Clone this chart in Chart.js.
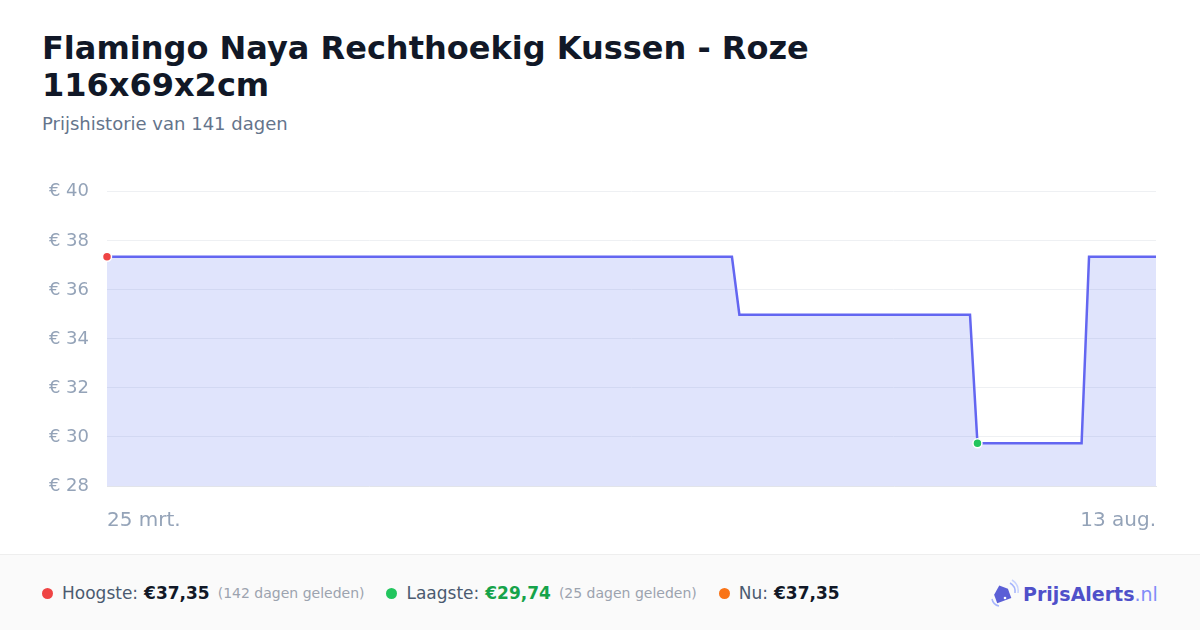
<!DOCTYPE html>
<html lang="nl">
<head>
<meta charset="utf-8">
<script src="https://cdn.jsdelivr.net/npm/chart.js@4"></script>
<style>
    html, body { margin: 0; padding: 0; }
    body { width: 1200px; height: 630px; background: #fff; font-family: "DejaVu Sans", sans-serif; position: relative; overflow: hidden; }
    h1 { position: absolute; left: 42px; top: 30px; margin: 0; width: 800px; font-size: 32px; line-height: 37px; font-weight: bold; color: #111827; }
    .sub { position: absolute; left: 42px; top: 113px; font-size: 18px; color: #64748b; }
    .grafico { position: absolute; left: 0; top: 163px; width: 1200px; height: 377px; }
    .pie { position: absolute; left: 0; top: 554px; width: 1200px; height: 76px; background: #fafafa; border-top: 1px solid #eeeeee; box-sizing: border-box; }
    .leyenda { position: absolute; left: 42px; top: 0; height: 76px; display: flex; align-items: center; font-size: 17px; color: #4b5a70; white-space: nowrap; }
    .item { display: flex; align-items: center; margin-right: 22px; }
    .punto { width: 11px; height: 11px; border-radius: 50%; margin-right: 9px; }
    .valor { font-weight: bold; color: #111827; margin-left: 6px; }
    .hace { font-size: 14px; color: #9ca3af; margin-left: 8px; }
    .logo { position: absolute; left: 990px; top: 24px; display: flex; align-items: center; font-size: 19px; font-weight: bold; color: #4f50c9; }
    .logo .nl { font-weight: normal; color: #818cf8; }
</style>
</head>
<body>
<h1>Flamingo Naya Rechthoekig Kussen - Roze 116x69x2cm</h1>
<div class="sub">Prijshistorie van 141 dagen</div>
<div class="grafico"><canvas id="graficoPrecio"></canvas></div>
<div class="pie">
    <div class="leyenda">
        <div class="item"><span class="punto" style="background:#ef4444"></span>Hoogste:<span class="valor">€37,35</span><span class="hace">(142 dagen geleden)</span></div>
        <div class="item"><span class="punto" style="background:#22c55e"></span>Laagste:<span class="valor" style="color:#16a34a">€29,74</span><span class="hace">(25 dagen geleden)</span></div>
        <div class="item"><span class="punto" style="background:#f97316"></span>Nu:<span class="valor">€37,35</span></div>
    </div>
    <div class="logo">
        <svg width="30" height="30" viewBox="0 0 30 30" style="margin-right:3px">
            <path d="M4 13 L12 6 L19 12 L19 22 L4 22 Z" fill="#5b5fd6" transform="rotate(-20 12 14)"/>
            <circle cx="15" cy="19" r="1.3" fill="#fff"/>
            <path d="M20 4 A10 10 0 0 1 25 14" stroke="#a5b4fc" stroke-width="1.5" fill="none"/>
            <path d="M22 1 A13 13 0 0 1 28 14" stroke="#c7d2fe" stroke-width="1.5" fill="none"/>
            <path d="M2 20 A9 9 0 0 0 9 27" stroke="#a5b4fc" stroke-width="1.5" fill="none"/>
        </svg>
        <span>PrijsAlerts</span><span class="nl">.nl</span>
    </div>
</div>
<script>
// dagen sinds 25 mrt. waarop de prijs verandert
const dagen = [0, 84, 85, 116, 117, 131, 132, 141];
const prijzen = [37.35, 37.35, 34.99, 34.99, 29.74, 29.74, 37.35, 37.35];
const xLabels = ["25 mrt.", "13 aug."];
const yTicks = [28, 30, 32, 34, 36, 38, 40];

const hoogsteIdx = 0;
const laagsteIdx = 4;

document.addEventListener("DOMContentLoaded", () => {
    const ctx = document.getElementById("graficoPrecio").getContext("2d");
    const puntos = dagen.map((d, i) => ({ x: d, y: prijzen[i] }));

    new Chart(ctx, {
        type: "line",
        data: {
            datasets: [{
                data: puntos,
                borderColor: "#6366f1",
                borderWidth: 2.5,
                backgroundColor: "rgba(99, 122, 241, 0.2)",
                fill: "start",
                tension: 0,
                clip: false,
                pointRadius: puntos.map((p, i) => (i === hoogsteIdx || i === laagsteIdx) ? 4.5 : 0),
                pointBackgroundColor: puntos.map((p, i) => i === hoogsteIdx ? "#ef4444" : "#22c55e"),
                pointBorderColor: "#ffffff",
                pointBorderWidth: 1.5
            }]
        },
        options: {
            responsive: true,
            maintainAspectRatio: false,
            animation: false,
            layout: { padding: { top: 15, right: 44, left: 0, bottom: 0 } },
            plugins: { legend: { display: false }, tooltip: { enabled: false } },
            scales: {
                x: {
                    type: "linear",
                    min: dagen[0],
                    max: dagen[dagen.length - 1],
                    afterBuildTicks: (scale) => {
                        scale.ticks = [{ value: dagen[0] }, { value: dagen[dagen.length - 1] }];
                    },
                    afterFit: (scale) => { scale.height = 54; },
                    grid: { display: false, drawTicks: false },
                    border: { display: true, color: "#e2e4ea", width: 1 },
                    ticks: {
                        align: "inner",
                        padding: 23,
                        maxRotation: 0,
                        color: "#94a3b8",
                        font: { family: "DejaVu Sans", size: 20 },
                        callback: (v) => v === dagen[0] ? xLabels[0] : xLabels[1]
                    }
                },
                y: {
                    min: yTicks[0],
                    max: yTicks[yTicks.length - 1],
                    afterBuildTicks: (scale) => {
                        scale.ticks = yTicks.map(v => ({ value: v }));
                    },
                    afterFit: (scale) => { scale.width = 107; },
                    grid: { color: "#eef0f3", drawTicks: false, lineWidth: 1 },
                    border: { display: false },
                    ticks: {
                        padding: 18,
                        color: "#94a3b8",
                        font: { family: "DejaVu Sans", size: 18 },
                        callback: (v) => "€ " + v
                    }
                }
            }
        }
    });
});
</script>
</body>
</html>
